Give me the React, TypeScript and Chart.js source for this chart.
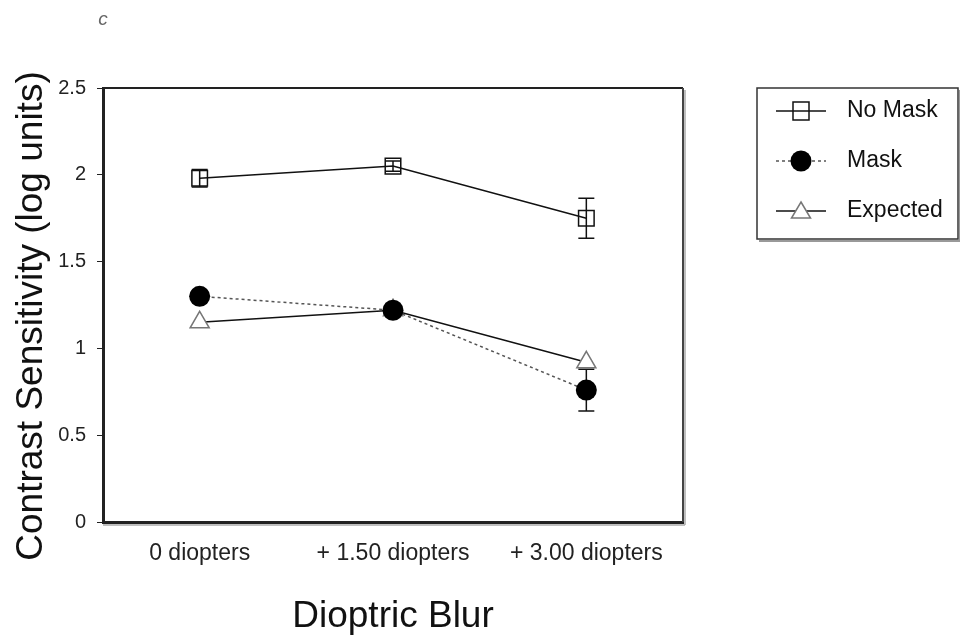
import React, { useEffect, useRef } from 'react';
import { Chart, registerables } from 'chart.js';

Chart.register(...registerables);

// Blur conditions along the x axis
const categories = ['0 diopters', '+ 1.50 diopters', '+ 3.00 diopters'];

// Contrast sensitivity (log units) per condition
const noMask = [1.98, 2.05, 1.75];
const noMaskErr = [0.05, 0.03, 0.115];
const mask = [1.3, 1.22, 0.76];
const maskErr = [0.03, 0.03, 0.12];
const expected = [1.15, 1.22, 0.92];

const seriesNames = ['No Mask', 'Mask', 'Expected'];
const errorSets: (number[] | null)[] = [noMaskErr, maskErr, null];

const yMin = 0;
const yMax = 2.5;
const yStep = 0.5;

const panelLabel = 'c';
const xTitle = 'Dioptric Blur';
const yTitle = 'Contrast Sensitivity (log units)';

const FONT = '"Liberation Sans", Arial, Helvetica, sans-serif';

type MarkerKind = 'square' | 'circle' | 'triangle';

function drawMarker(ctx: CanvasRenderingContext2D, kind: MarkerKind, x: number, y: number) {
  ctx.save();
  ctx.lineWidth = 1.5;
  if (kind === 'square') {
    ctx.strokeStyle = '#111';
    ctx.strokeRect(x - 8, y - 9, 16, 18);
  } else if (kind === 'circle') {
    ctx.fillStyle = '#000';
    ctx.beginPath();
    ctx.arc(x, y, 10.5, 0, Math.PI * 2);
    ctx.fill();
  } else {
    ctx.strokeStyle = '#777';
    ctx.fillStyle = '#fff';
    ctx.beginPath();
    ctx.moveTo(x, y - 9);
    ctx.lineTo(x + 9.5, y + 7);
    ctx.lineTo(x - 9.5, y + 7);
    ctx.closePath();
    ctx.fill();
    ctx.stroke();
  }
  ctx.restore();
}

// Vertical error bars with caps, drawn beneath the markers
const errorBarPlugin = {
  id: 'errorBars',
  beforeDatasetsDraw(chart: any) {
    const { ctx, scales } = chart;
    const y = scales.y;
    chart.data.datasets.forEach((ds: any, i: number) => {
      const errs = errorSets[i];
      if (!errs) return;
      const meta = chart.getDatasetMeta(i);
      meta.data.forEach((pt: any, j: number) => {
        const v = ds.data[j] as number;
        const e = errs[j];
        const top = y.getPixelForValue(v + e);
        const bot = y.getPixelForValue(v - e);
        ctx.save();
        ctx.strokeStyle = '#111';
        ctx.lineWidth = 1.5;
        ctx.beginPath();
        ctx.moveTo(pt.x, top);
        ctx.lineTo(pt.x, bot);
        ctx.moveTo(pt.x - 8, top);
        ctx.lineTo(pt.x + 8, top);
        ctx.moveTo(pt.x - 8, bot);
        ctx.lineTo(pt.x + 8, bot);
        ctx.stroke();
        ctx.restore();
      });
    });
  },
};

// Top and right edges of the plot frame, the rotated y-axis title and the panel letter
const framePlugin = {
  id: 'frame',
  afterDraw(chart: any) {
    const { ctx, chartArea } = chart;
    const { left, right, top, bottom } = chartArea;
    ctx.save();
    ctx.strokeStyle = '#222';
    ctx.lineWidth = 2;
    ctx.beginPath();
    ctx.moveTo(left, top);
    ctx.lineTo(right, top);
    ctx.stroke();
    ctx.strokeStyle = '#444';
    ctx.lineWidth = 2;
    ctx.beginPath();
    ctx.moveTo(right, top);
    ctx.lineTo(right, bottom);
    ctx.stroke();
    ctx.strokeStyle = '#aaa';
    ctx.lineWidth = 1.5;
    ctx.beginPath();
    ctx.moveTo(right + 2, top + 2);
    ctx.lineTo(right + 2, bottom + 3);
    ctx.moveTo(left, bottom + 3);
    ctx.lineTo(right + 2, bottom + 3);
    ctx.stroke();

    // y-axis title, centred a little below the middle of the plot
    ctx.save();
    ctx.translate(32, (top + bottom) / 2 + 11);
    ctx.rotate(-Math.PI / 2);
    ctx.fillStyle = '#111';
    ctx.font = `37px ${FONT}`;
    ctx.textAlign = 'center';
    ctx.textBaseline = 'middle';
    ctx.fillText(yTitle, 0, 0);
    ctx.restore();

    ctx.fillStyle = '#666';
    ctx.font = `italic 19px ${FONT}`;
    ctx.textAlign = 'center';
    ctx.textBaseline = 'middle';
    ctx.fillText(panelLabel, left, 20);
    ctx.restore();
  },
};

// Boxed legend to the right of the plot
const legendPlugin = {
  id: 'boxLegend',
  afterDraw(chart: any) {
    const { ctx } = chart;
    const bx = 757;
    const by = 88;
    const bw = 201;
    const bh = 151;
    ctx.save();
    ctx.fillStyle = '#fff';
    ctx.fillRect(bx, by, bw, bh);
    ctx.strokeStyle = '#333';
    ctx.lineWidth = 1.5;
    ctx.strokeRect(bx, by, bw, bh);
    ctx.strokeStyle = '#999';
    ctx.lineWidth = 2;
    ctx.beginPath();
    ctx.moveTo(bx + 2, by + bh + 2);
    ctx.lineTo(bx + bw + 2, by + bh + 2);
    ctx.lineTo(bx + bw + 2, by + 2);
    ctx.stroke();

    const kinds: MarkerKind[] = ['square', 'circle', 'triangle'];
    const rowY = [111, 161, 211];
    chart.data.datasets.forEach((ds: any, i: number) => {
      const y = rowY[i];
      ctx.save();
      ctx.strokeStyle = ds.borderColor;
      ctx.lineWidth = ds.borderWidth;
      ctx.setLineDash(ds.borderDash || []);
      ctx.beginPath();
      ctx.moveTo(776, y);
      ctx.lineTo(826, y);
      ctx.stroke();
      ctx.restore();
      drawMarker(ctx, kinds[i], 801, y);
      ctx.fillStyle = '#111';
      ctx.font = `23px ${FONT}`;
      ctx.textAlign = 'left';
      ctx.textBaseline = 'middle';
      ctx.fillText(seriesNames[i], 847, y);
    });
    ctx.restore();
  },
};

export default function App() {
  const canvasRef = useRef<HTMLCanvasElement | null>(null);

  useEffect(() => {
    if (!canvasRef.current) return;
    const chart = new Chart(canvasRef.current, {
      type: 'line',
      data: {
        labels: categories,
        datasets: [
          {
            label: seriesNames[0],
            data: noMask,
            borderColor: '#111',
            borderWidth: 1.5,
            pointStyle: 'rect',
            pointRadius: 11,
            pointBackgroundColor: 'rgba(0,0,0,0)',
            pointBorderColor: '#111',
            pointBorderWidth: 1.5,
            tension: 0,
          },
          {
            label: seriesNames[1],
            data: mask,
            borderColor: '#555',
            borderWidth: 1.5,
            borderDash: [3, 3],
            pointStyle: 'circle',
            pointRadius: 10.5,
            pointBackgroundColor: '#000',
            pointBorderColor: '#000',
            pointBorderWidth: 0,
            tension: 0,
          },
          {
            label: seriesNames[2],
            data: expected,
            borderColor: '#111',
            borderWidth: 1.5,
            pointStyle: 'triangle',
            pointRadius: 11,
            pointBackgroundColor: '#fff',
            pointBorderColor: '#777',
            pointBorderWidth: 1.5,
            tension: 0,
          },
        ],
      },
      options: {
        animation: false,
        responsive: true,
        maintainAspectRatio: false,
        layout: { padding: { left: 0, top: 88, right: 277, bottom: 0 } },
        plugins: {
          legend: { display: false },
          tooltip: { enabled: false },
        },
        scales: {
          x: {
            type: 'category',
            offset: true,
            afterFit: (s: any) => {
              s.height = 118;
            },
            grid: { display: true, drawOnChartArea: false, drawTicks: false },
            border: { display: true, color: '#222', width: 3 },
            ticks: {
              color: '#222',
              padding: 18,
              font: { family: FONT, size: 23 },
              maxRotation: 0,
              autoSkip: false,
            },
            title: {
              display: true,
              text: xTitle,
              color: '#111',
              font: { family: FONT, size: 37 },
              padding: { top: 0, bottom: 1 },
            },
          },
          y: {
            min: yMin,
            max: yMax,
            afterFit: (s: any) => {
              s.width = 103;
            },
            grid: { display: true, drawOnChartArea: false, drawTicks: true, tickLength: 6, color: '#222' },
            border: { display: true, color: '#222', width: 3 },
            ticks: {
              stepSize: yStep,
              color: '#222',
              padding: 11,
              font: { family: FONT, size: 20 },
              callback: (value: any) => String(Number(value)),
            },
          },
        },
      },
      plugins: [errorBarPlugin, framePlugin, legendPlugin],
    });
    return () => chart.destroy();
  }, []);

  return (
    <div style={{ position: 'absolute', left: 0, top: 0, width: 960, height: 640, background: '#fff' }}>
      <canvas ref={canvasRef} />
    </div>
  );
}
